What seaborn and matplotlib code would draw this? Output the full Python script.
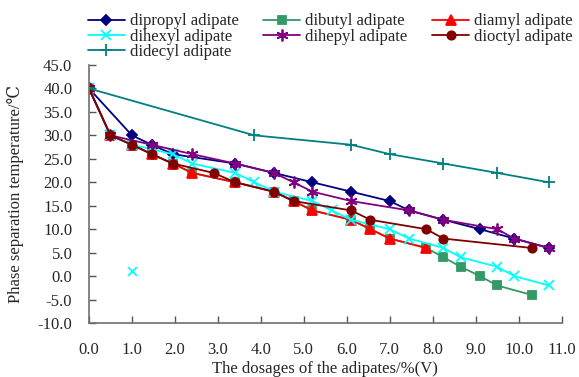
import matplotlib
matplotlib.use("Agg")
import matplotlib.pyplot as plt
import seaborn as sns
import numpy as np
import pandas as pd

names = ["dipropyl adipate", "dibutyl adipate", "diamyl adipate", "dihexyl adipate",
         "dihepyl adipate", "dioctyl adipate", "didecyl adipate"]

dipropyl_x = [0.0, 1.0, 1.46, 1.95, 3.4, 4.3, 5.2, 6.1, 7.0, 7.45, 8.25, 9.1, 9.9, 10.7]
dipropyl_y = [40, 30, 28, 26, 24, 22, 20, 18, 16, 14, 12, 10, 8, 6]

dibutyl_x = [0.0, 0.5, 1.0, 1.46, 1.95, 2.4, 3.4, 4.3, 4.76, 5.2, 6.1, 6.55, 7.0, 7.85, 8.25, 8.65, 9.1, 9.5, 10.3]
dibutyl_y = [40, 30, 28, 26, 24, 22, 20, 18, 16, 14, 12, 10, 8, 6, 4, 2, 0, -2, -4]

diamyl_x = [0.0, 0.5, 1.0, 1.46, 1.95, 2.4, 3.4, 4.3, 4.76, 5.2, 6.1, 6.55, 7.0, 7.85]
diamyl_y = [40, 30, 28, 26, 24, 22, 20, 18, 16, 14, 12, 10, 8, 6]

dihexyl_x = [0.0, 0.5, 1.0, 1.95, 2.4, 3.4, 3.85, 4.3, 5.2, 5.65, 6.1, 7.0, 7.45, 8.25, 8.65, 9.5, 9.9, 10.7]
dihexyl_y = [40, 30, 28, 26, 24, 22, 20, 18, 16, 14, 12, 10, 8, 6, 4, 2, 0, -2]
dihexyl_out_x = [1.0]
dihexyl_out_y = [1.0]

dihepyl_x = [0.0, 0.5, 1.46, 2.4, 3.4, 4.3, 4.76, 5.2, 6.1, 7.45, 8.25, 9.5, 9.9, 10.7]
dihepyl_y = [40, 30, 28, 26, 24, 22, 20, 18, 16, 14, 12, 10, 8, 6]

dioctyl_x = [0.0, 0.5, 1.0, 1.46, 1.95, 2.9, 3.4, 4.3, 4.76, 6.1, 6.55, 7.85, 8.25, 10.3]
dioctyl_y = [40, 30, 28, 26, 24, 22, 20, 18, 16, 14, 12, 10, 8, 6]

didecyl_x = [0.0, 3.85, 6.1, 7.0, 8.25, 9.5, 10.7]
didecyl_y = [40, 30, 28, 26, 24, 22, 20]

xticks = [0.0, 1.0, 2.0, 3.0, 4.0, 5.0, 6.0, 7.0, 8.0, 9.0, 10.0, 11.0]
yticks = [-10.0, -5.0, 0.0, 5.0, 10.0, 15.0, 20.0, 25.0, 30.0, 35.0, 40.0, 45.0]

series = [
    (dipropyl_x, dipropyl_y, "#000080", "D", 5),
    (dibutyl_x, dibutyl_y, "#339966", "s", 5.5),
    (diamyl_x, diamyl_y, "#FF0000", "^", 6.5),
    (dihexyl_x, dihexyl_y, "#00FFFF", "x", 6.5),
    (dihepyl_x, dihepyl_y, "#800080", (6, 2, 0), 8.5),
    (dioctyl_x, dioctyl_y, "#800000", "o", 6),
    (didecyl_x, didecyl_y, "#008080", "+", 8.5),
]

sns.set_theme(style="white")
plt.rcParams["font.family"] = ["Liberation Serif", "DejaVu Serif", "DejaVu Sans"]

fig = plt.figure(figsize=(5.79, 3.77), dpi=100)
ax = fig.add_axes([0.1537, 0.1432, 0.8163, 0.6844])

for name, (xs, ys, col, mk, ms) in zip(names, series):
    df = pd.DataFrame({"x": xs, "y": ys})
    sns.lineplot(data=df, x="x", y="y", ax=ax, color=col, marker=mk, markersize=ms,
                 markeredgecolor=col, markerfacecolor=col, markeredgewidth=1.3,
                 linewidth=1.3, sort=False, label=name, estimator=None)

sns.scatterplot(x=dihexyl_out_x, y=dihexyl_out_y, ax=ax, color="#00FFFF", marker="x",
                s=40, linewidth=1.3, legend=False)

ax.set_xlim(0, 11)
ax.set_ylim(-10, 45)
ax.set_xticks(xticks)
ax.set_yticks(yticks)
ax.set_xticklabels([f"{v:.1f}" for v in xticks], fontsize=12)
ax.set_yticklabels([f"{v:.1f}" for v in yticks], fontsize=12)
ax.tick_params(axis="x", direction="in", length=5, width=1, color="#555555",
               bottom=True, pad=14)
ax.tick_params(axis="y", direction="in", length=5, width=1, color="#555555",
               left=True, pad=12)
for s in ["top", "right"]:
    ax.spines[s].set_visible(False)
for s in ["left", "bottom"]:
    ax.spines[s].set_color("#707070")
    ax.spines[s].set_linewidth(1.2)

ax.set_xlabel("The dosages of the adipates/%(V)", fontsize=12, labelpad=2)
ax.set_ylabel("Phase separation temperature/℃", fontsize=12, labelpad=10)

handles, labels = ax.get_legend_handles_labels()
if ax.legend_:
    ax.legend_.remove()
order = [0, 3, 6, 1, 4, 2, 5]
fig.legend([handles[i] for i in order], [labels[i] for i in order], ncol=3,
           loc="upper left", bbox_to_anchor=(0.126, 1.004),
           frameon=False, fontsize=12, handlelength=2.2, handletextpad=0.3,
           columnspacing=1.5, labelspacing=-0.05, borderaxespad=0.5)

fig.savefig("out.png", dpi=100)
